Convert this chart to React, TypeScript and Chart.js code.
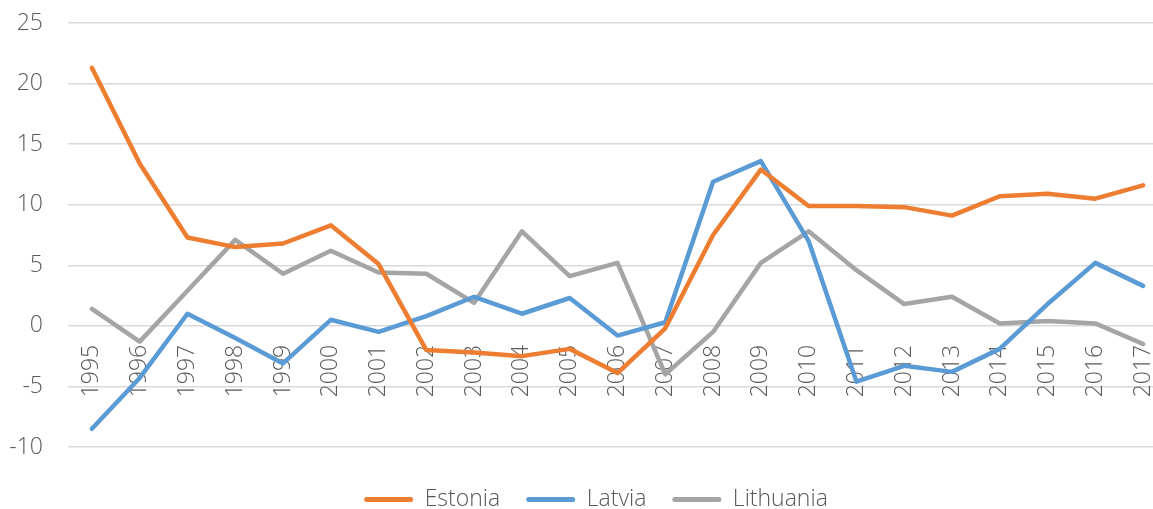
import React, { useEffect, useRef } from "react";
import { Chart, registerables } from "chart.js";

Chart.register(...registerables);

const years = ["1995","1996","1997","1998","1999","2000","2001","2002","2003","2004","2005","2006","2007","2008","2009","2010","2011","2012","2013","2014","2015","2016","2017"];
const estonia = [21.3, 13.4, 7.3, 6.5, 6.8, 8.3, 5.1, -2.0, -2.2, -2.5, -1.9, -3.9, -0.2, 7.5, 12.9, 9.9, 9.9, 9.8, 9.1, 10.7, 10.9, 10.5, 11.6];
const latvia = [-8.5, -4.3, 1.0, -1.0, -3.1, 0.5, -0.5, 0.8, 2.4, 1.0, 2.3, -0.8, 0.3, 11.9, 13.6, 7.0, -4.6, -3.3, -3.8, -1.9, 1.8, 5.2, 3.3];
const lithuania = [1.4, -1.3, 2.9, 7.1, 4.3, 6.2, 4.4, 4.3, 1.9, 7.8, 4.1, 5.2, -4.0, -0.5, 5.2, 7.8, 4.6, 1.8, 2.4, 0.2, 0.4, 0.2, -1.5];
const yTicks = [-10, -5, 0, 5, 10, 15, 20, 25];

const FONT = "'Open Sans', 'DejaVu Sans', sans-serif";
const TEXT = "#595959";
const W = 1192;
const H = 521;

export default function App() {
  const ref = useRef<HTMLCanvasElement | null>(null);
  useEffect(() => {
    if (!ref.current) return;
    const mk = (label: string, data: number[], color: string) => ({
      label,
      data,
      borderColor: color,
      backgroundColor: color,
      borderWidth: 4.5,
      pointRadius: 0,
      pointHoverRadius: 0,
      tension: 0,
      borderCapStyle: "round" as const,
      borderJoinStyle: "round" as const,
      fill: false,
    });
    const font = { family: FONT, size: 23, weight: "300" as any };
    const chart = new Chart(ref.current, {
      type: "line",
      data: {
        labels: years,
        datasets: [
          mk("Estonia", estonia, "#ED7D31"),
          mk("Latvia", latvia, "#5B9BD5"),
          mk("Lithuania", lithuania, "#A5A5A5"),
        ],
      },
      options: {
        responsive: false,
        animation: false,
        devicePixelRatio: 1,
        layout: { padding: { top: 23, left: 0, right: 0, bottom: 0 } },
        plugins: {
          tooltip: { enabled: false },
          legend: {
            position: "bottom",
            labels: {
              boxWidth: 49,
              boxHeight: 5,
              padding: 26,
              color: TEXT,
              font,
              useBorderRadius: true,
              borderRadius: 2.5,
              generateLabels: (c: any) =>
                Chart.defaults.plugins.legend.labels.generateLabels(c).map((l: any) => ({ ...l, lineWidth: 0 })),
            },
          },
        },
        scales: {
          x: {
            type: "category",
            position: { y: 0 } as any,
            offset: true,
            grid: { display: false, drawTicks: false },
            border: { display: false },
            ticks: {
              color: TEXT,
              font,
              maxRotation: 90,
              minRotation: 90,
              autoSkip: false,
              padding: 19,
            },
            afterFit: (s: any) => { s.paddingLeft = 0; s.paddingRight = 0; s.paddingTop = 0; s.paddingBottom = 0; },
          },
          x2: {
            type: "category",
            labels: years,
            position: "bottom",
            offset: true,
            grid: { display: false, drawTicks: false },
            border: { display: false },
            ticks: { display: false },
            afterFit: (s: any) => { s.height = 15; s.paddingLeft = 0; s.paddingRight = 0; },
          },
          y: {
            min: -10,
            max: 25,
            afterBuildTicks: (s: any) => { s.ticks = yTicks.map((v) => ({ value: v })); },
            grid: { color: "#D9D9D9", lineWidth: 1.5, drawTicks: false },
            border: { display: false },
            ticks: { color: TEXT, font, padding: 25 },
            afterFit: (s: any) => { s.width = 68; s.paddingTop = 0; s.paddingBottom = 0; },
          },
          y2: {
            type: "linear",
            position: "right",
            min: 0,
            max: 1,
            grid: { display: false, drawTicks: false },
            border: { display: false },
            ticks: { display: false },
            afterFit: (s: any) => { s.width = 25; s.paddingTop = 0; s.paddingBottom = 0; },
          },
        },
      },
    });
    return () => chart.destroy();
  }, []);
  return (
    <div style={{ position: "fixed", left: 0, top: 0, width: 1153, height: 509, overflow: "hidden", background: "#fff" }}>
      <canvas ref={ref} width={W} height={H} style={{ width: W, height: H, display: "block" }} />
    </div>
  );
}
